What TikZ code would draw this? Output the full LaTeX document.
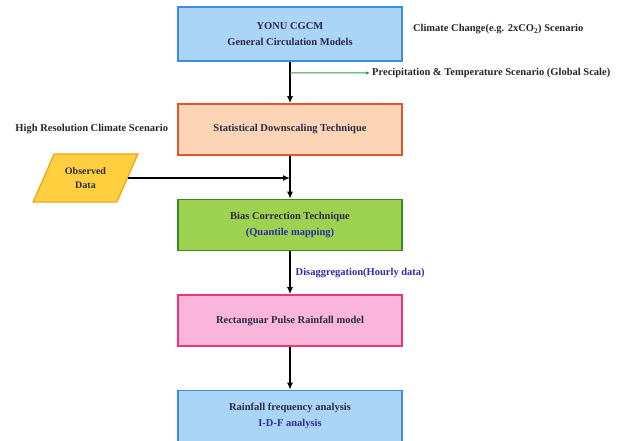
\documentclass[tikz,border=0pt]{standalone}
\usepackage{fontspec}
\setmainfont{Liberation Serif}
\usepackage{xcolor}
\usetikzlibrary{arrows.meta,positioning,shapes.geometric}
\definecolor{skyFill}{HTML}{AAD5F6}
\definecolor{skyLine}{HTML}{3C8EDB}
\definecolor{peachFill}{HTML}{FCD4B6}
\definecolor{peachLine}{HTML}{E0562C}
\definecolor{limeFill}{HTML}{9DD250}
\definecolor{limeLine}{HTML}{3A8A22}
\definecolor{pinkFill}{HTML}{F9B5DA}
\definecolor{pinkLine}{HTML}{E8357C}
\definecolor{goldFill}{HTML}{FFCF40}
\definecolor{goldLine}{HTML}{F2A81E}
\definecolor{boxText}{HTML}{2A2A46}
\definecolor{noteBlue}{HTML}{2C2CA0}
\definecolor{splitGreen}{HTML}{2E9E3A}
\tikzstyle{myBlock}=[draw, line width=1.6pt, minimum width=224pt, minimum height=51pt, align=center, text=boxText, font=\bfseries\fontsize{10.5}{16}\selectfont, node distance=95.5pt]
\tikzstyle{myData}=[trapezium, trapezium left angle=60, trapezium right angle=120, trapezium stretches=true, draw=goldLine, fill=goldFill, line width=1.4pt, minimum width=105pt, minimum height=48pt, align=center, text=boxText, font=\bfseries\fontsize{10}{14}\selectfont]
\tikzstyle{myNote}=[inner sep=2pt, text=black!85, font=\bfseries\fontsize{10.5}{12}\selectfont]
\tikzstyle{myPath}=[-{Latex[length=7pt,width=6pt]}, line width=1.4pt]
\tikzstyle{mySplit}=[-{Latex[length=4pt,width=3.5pt]}, line width=1pt, splitGreen]

\begin{document}
\begin{tikzpicture}[x=1pt,y=-1pt]
   \useasboundingbox (0,0) rectangle (629,441);

   \node[myBlock, fill=skyFill, draw=skyLine, minimum height=54pt] (gcm) at (290,34) {YONU CGCM\\General Circulation Models};
   \node[myBlock, fill=peachFill, draw=peachLine] (sdt) [below of=gcm] {Statistical Downscaling Technique};
   \node[myBlock, fill=limeFill, draw=limeLine] (bias) [below of=sdt] {Bias Correction Technique\\\textcolor{noteBlue}{(Quantile mapping)}};
   \node[myBlock, fill=pinkFill, draw=pinkLine] (rpm) [below of=bias] {Rectanguar Pulse Rainfall model};
   \node[myBlock, fill=skyFill, draw=skyLine] (idf) [below of=rpm] {Rainfall frequency analysis\\\textcolor{noteBlue}{I-D-F analysis}};
   \node[myData] (obs) at (85.5,178) {Observed\\Data};

   % Notes beside the boxes
   \node[myNote, right=8pt of gcm, yshift=5pt] (cc) {Climate Change(e.g. 2xCO\textsubscript{2}) Scenario};
   \node[myNote, left=7pt of sdt] (hires) {High Resolution Climate Scenario};
   \coordinate (split) at ([yshift=-11pt]gcm.south);
   \node[myNote, anchor=west] (precip) at (370,73) {Precipitation \& Temperature Scenario (Global Scale)};

   % Draw line between each of the blocks
   \draw[myPath] (gcm) -- (sdt);
   \draw[mySplit] (split) -- (precip.west);
   \draw[myPath] (sdt) -- (bias);
   \draw[myPath] (obs.east) -- (obs.east -| sdt.south);
   \draw[myPath] (bias) -- (rpm) node [myNote, midway, right, text=noteBlue, xshift=3pt] (disagg) {Disaggregation(Hourly data)};
   \draw[myPath] (rpm) -- (idf);

\end{tikzpicture}
\end{document}
